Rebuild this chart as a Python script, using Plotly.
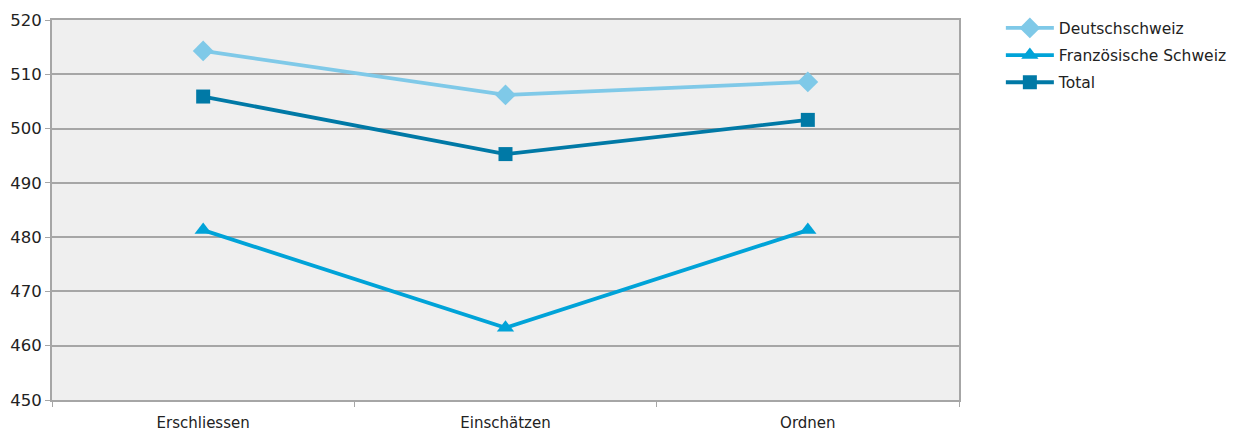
import plotly.graph_objects as go

categories = ["Erschliessen", "Einschätzen", "Ordnen"]
deutschschweiz = [514.3, 506.2, 508.6]
franz_schweiz = [481.3, 463.3, 481.3]
total = [505.9, 495.3, 501.6]

series = [
    ("Deutschschweiz", deutschschweiz, "#7FC9E8", "diamond", 16),
    ("Französische Schweiz", franz_schweiz, "#00A3D8", "triangle-up", 15),
    ("Total", total, "#0079A6", "square", 14),
]

fig = go.Figure()
for name, vals, color, symbol, size in series:
    fig.add_trace(go.Scatter(
        x=categories, y=vals, name=name, mode="lines+markers",
        legendgroup=name,
        line=dict(color=color, width=3.8),
        marker=dict(symbol=symbol, size=size, color=color),
    ))

fig.update_layout(
    width=1243, height=432,
    margin=dict(l=52, r=283, t=19, b=32),
    paper_bgcolor="white",
    plot_bgcolor="#EFEFEF",
    font=dict(family="DejaVu Sans, sans-serif", size=15, color="#222222"),
    showlegend=True,
    legend=dict(x=1.045, y=1.02, xanchor="left", yanchor="top",
                font=dict(size=15.5), tracegroupgap=4, itemwidth=48,
                bgcolor="rgba(0,0,0,0)"),
)
fig.update_xaxes(
    type="category", tickson="boundaries", ticks="outside", ticklen=5,
    tickcolor="#A6A6A6", showgrid=False, showline=True, linecolor="#A6A6A6",
    linewidth=2, mirror=True, range=[-0.5, 2.5], automargin=False,
    ticklabelstandoff=8, tickfont=dict(size=15),
)
fig.update_yaxes(
    range=[450, 520], dtick=10, ticks="outside", ticklen=5, tickcolor="#A6A6A6",
    showgrid=True, gridcolor="#A6A6A6", gridwidth=2, showline=True,
    linecolor="#A6A6A6", linewidth=2, mirror=True, zeroline=False,
    automargin=False, tickfont=dict(size=16.5),
)

fig.write_html("out.html")
